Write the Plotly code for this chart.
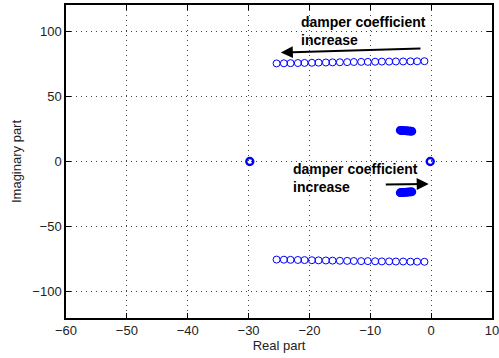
import plotly.graph_objects as go

# Upper branch (poles moving left as damper coefficient increases)
upper_re = [-25.4, -24.2, -23.1, -21.9, -20.8, -19.6, -18.5, -17.3, -16.2, -15.0, -13.8,
            -12.7, -11.5, -10.4, -9.2, -8.1, -6.9, -5.8, -4.6, -3.4, -2.3, -1.1]
upper_im = [75.2, 75.3, 75.4, 75.5, 75.6, 75.7, 75.8, 75.9, 76.0, 76.1, 76.2,
            76.3, 76.4, 76.4, 76.5, 76.6, 76.6, 76.7, 76.7, 76.8, 76.8, 76.9]
lower_re = upper_re
lower_im = [-75.2, -75.3, -75.4, -75.5, -75.6, -75.7, -75.8, -75.9, -76.0, -76.1, -76.2,
            -76.3, -76.4, -76.4, -76.5, -76.6, -76.6, -76.7, -76.7, -76.8, -76.8, -76.9]
# Clustered poles
clus_re = [-5.1, -4.95, -4.8, -4.65, -4.5, -4.35, -4.2, -4.05, -3.9, -3.75, -3.6, -3.45, -3.3, -3.15]
clus_up_im = [23.9, 23.8, 23.8, 23.7, 23.7, 23.6, 23.6, 23.5, 23.5, 23.4, 23.4, 23.3, 23.3, 23.2]
clus_lo_im = [-23.9, -23.8, -23.8, -23.7, -23.7, -23.6, -23.6, -23.5, -23.5, -23.4, -23.4, -23.3, -23.3, -23.2]
# Real poles
real_re = [-29.8, -0.15]
real_im = [0.0, 0.0]

x_ticks = [-60, -50, -40, -30, -20, -10, 0, 10]
y_ticks = [-100, -50, 0, 50, 100]

blue = "#0000FF"
FONT = "Liberation Sans, Arial, Helvetica, sans-serif"

fig = go.Figure()
mk = dict(symbol="circle-open", size=7, color=blue, line=dict(width=1, color=blue))
fig.add_trace(go.Scatter(x=upper_re, y=upper_im, mode="markers", marker=mk, showlegend=False))
fig.add_trace(go.Scatter(x=lower_re, y=lower_im, mode="markers", marker=mk, showlegend=False))
mk2 = dict(symbol="circle-open", size=7, color=blue, line=dict(width=1.6, color=blue))
fig.add_trace(go.Scatter(x=clus_re, y=clus_up_im, mode="markers", marker=mk2, showlegend=False))
fig.add_trace(go.Scatter(x=clus_re, y=clus_lo_im, mode="markers", marker=mk2, showlegend=False))
fig.add_trace(go.Scatter(x=real_re, y=real_im, mode="markers",
                         marker=dict(symbol="circle-open", size=7, color=blue,
                                     line=dict(width=2.4, color=blue)), showlegend=False))

axis_common = dict(
    showline=True, linecolor="black", linewidth=1.5, mirror="allticks",
    ticks="inside", ticklen=5, tickcolor="black", tickwidth=1,
    showgrid=True, gridcolor="#444444", gridwidth=0.8, griddash="1px,4px",
    zeroline=False, tickfont=dict(family=FONT, size=13, color="#222222"),
    ticklabeloverflow="allow", automargin=False,
)
fig.update_xaxes(range=[-60, 10], tickvals=x_ticks, ticktext=[("\u2212" + str(-v)) if v < 0 else str(v) for v in x_ticks],
                 title=dict(text="Real part", font=dict(family=FONT, size=13, color="#222222"), standoff=2),
                 **axis_common)
fig.update_yaxes(range=[-120, 120], tickvals=y_ticks, ticktext=[("\u2212" + str(-v)) if v < 0 else str(v) for v in y_ticks],
                 title=dict(text="Imaginary part", font=dict(family=FONT, size=13, color="#222222"), standoff=8),
                 **axis_common)

ann_font = dict(family=FONT, size=14, color="black")
fig.add_annotation(x=-21.7, y=100, xref="x", yref="y", text="<b>damper coefficient<br>increase</b>",
                   showarrow=False, xanchor="left", yanchor="middle", align="left", font=ann_font)
fig.add_annotation(x=-23.0, y=-12.8, xref="x", yref="y", text="<b>damper coefficient<br>increase</b>",
                   showarrow=False, xanchor="left", yanchor="middle", align="left", font=ann_font)
fig.add_annotation(x=-24.7, y=83.6, ax=-1.5, ay=86.7, xref="x", yref="y", axref="x", ayref="y",
                   text="", showarrow=True, arrowhead=2, arrowsize=1.2, arrowwidth=2, arrowcolor="black")
fig.add_annotation(x=-0.4, y=-17.2, ax=-7.7, ay=-17.7, xref="x", yref="y", axref="x", ayref="y",
                   text="", showarrow=True, arrowhead=2, arrowsize=1.2, arrowwidth=2, arrowcolor="black")

fig.update_layout(
    width=499, height=358,
    margin=dict(l=66, r=7, t=5, b=40),
    paper_bgcolor="white", plot_bgcolor="white",
    font=dict(family=FONT),
)
fig.write_html("out.html")
